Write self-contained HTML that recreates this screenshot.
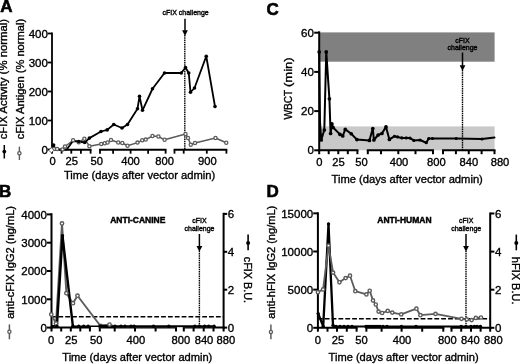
<!DOCTYPE html>
<html><head><meta charset="utf-8"><title>Figure</title>
<style>
html,body{margin:0;padding:0;background:#fff;}
body{width:520px;height:364px;overflow:hidden;}
svg{display:block;will-change:transform;font-family:"Liberation Sans",sans-serif;}
text{fill:#000;}
</style></head><body>
<svg width="520" height="364" viewBox="0 0 520 364">
<text x="0.2" y="12" font-size="17" text-anchor="start" font-weight="bold" stroke="#000" stroke-width="0.6" >A</text>
<line x1="52" y1="32.6" x2="52" y2="150.65" stroke="#000" stroke-width="1.8" />
<line x1="47.6" y1="149.5" x2="52" y2="149.5" stroke="#000" stroke-width="1.8" />
<text x="47.9" y="153.8" font-size="11.5" text-anchor="end" font-weight="normal" stroke="#000" stroke-width="0.35" >0</text>
<line x1="47.6" y1="120.5" x2="52" y2="120.5" stroke="#000" stroke-width="1.8" />
<text x="47.9" y="124.8" font-size="11.5" text-anchor="end" font-weight="normal" stroke="#000" stroke-width="0.35" >100</text>
<line x1="47.6" y1="91.5" x2="52" y2="91.5" stroke="#000" stroke-width="1.8" />
<text x="47.9" y="95.8" font-size="11.5" text-anchor="end" font-weight="normal" stroke="#000" stroke-width="0.35" >200</text>
<line x1="47.6" y1="62.5" x2="52" y2="62.5" stroke="#000" stroke-width="1.8" />
<text x="47.9" y="66.8" font-size="11.5" text-anchor="end" font-weight="normal" stroke="#000" stroke-width="0.35" >300</text>
<line x1="47.6" y1="33.5" x2="52" y2="33.5" stroke="#000" stroke-width="1.8" />
<text x="47.9" y="37.8" font-size="11.5" text-anchor="end" font-weight="normal" stroke="#000" stroke-width="0.35" >400</text>
<line x1="51.1" y1="149.75" x2="91.5" y2="149.75" stroke="#000" stroke-width="1.8" />
<line x1="52" y1="149.75" x2="52" y2="153.65" stroke="#000" stroke-width="1.8" />
<line x1="61.6" y1="149.75" x2="61.6" y2="153.65" stroke="#000" stroke-width="1.8" />
<line x1="71.3" y1="149.75" x2="71.3" y2="153.65" stroke="#000" stroke-width="1.8" />
<line x1="80.9" y1="149.75" x2="80.9" y2="153.65" stroke="#000" stroke-width="1.8" />
<line x1="90.6" y1="149.75" x2="90.6" y2="153.65" stroke="#000" stroke-width="1.8" />
<line x1="99.1" y1="149.75" x2="166.5" y2="149.75" stroke="#000" stroke-width="1.8" />
<line x1="100" y1="149.75" x2="100" y2="153.65" stroke="#000" stroke-width="1.8" />
<line x1="113.1" y1="149.75" x2="113.1" y2="153.65" stroke="#000" stroke-width="1.8" />
<line x1="130.6" y1="149.75" x2="130.6" y2="153.65" stroke="#000" stroke-width="1.8" />
<line x1="148.1" y1="149.75" x2="148.1" y2="153.65" stroke="#000" stroke-width="1.8" />
<line x1="165.6" y1="149.75" x2="165.6" y2="153.65" stroke="#000" stroke-width="1.8" />
<line x1="173.6" y1="149.75" x2="227.3" y2="149.75" stroke="#000" stroke-width="1.8" />
<line x1="174.5" y1="149.75" x2="174.5" y2="153.65" stroke="#000" stroke-width="1.8" />
<line x1="183.7" y1="149.75" x2="183.7" y2="153.65" stroke="#000" stroke-width="1.8" />
<line x1="206.8" y1="149.75" x2="206.8" y2="153.65" stroke="#000" stroke-width="1.8" />
<line x1="226.4" y1="149.75" x2="226.4" y2="153.65" stroke="#000" stroke-width="1.8" />
<text x="52.5" y="164.6" font-size="11.2" text-anchor="middle" font-weight="normal" stroke="#000" stroke-width="0.35" >0</text>
<text x="71.7" y="164.6" font-size="11.2" text-anchor="middle" font-weight="normal" stroke="#000" stroke-width="0.35" >25</text>
<text x="96.7" y="164.6" font-size="11.2" text-anchor="middle" font-weight="normal" stroke="#000" stroke-width="0.35" >50</text>
<text x="130.5" y="164.6" font-size="11.2" text-anchor="middle" font-weight="normal" stroke="#000" stroke-width="0.35" >400</text>
<text x="164.6" y="164.6" font-size="11.2" text-anchor="middle" font-weight="normal" stroke="#000" stroke-width="0.35" >800</text>
<text x="207.4" y="164.6" font-size="11.2" text-anchor="middle" font-weight="normal" stroke="#000" stroke-width="0.35" >900</text>
<text x="139.6" y="179.2" font-size="11.2" text-anchor="middle" font-weight="normal" stroke="#000" stroke-width="0.35" >Time (days after vector admin)</text>
<text x="7.4" y="139.3" font-size="11.35" text-anchor="start" font-weight="normal" stroke="#000" stroke-width="0.35" transform="rotate(-90 7.4 139.3)" >cFIX Activity (% normal)</text>
<text x="23.6" y="139.3" font-size="11.12" text-anchor="start" font-weight="normal" stroke="#000" stroke-width="0.35" transform="rotate(-90 23.6 139.3)" >cFIX Antigen (% normal)</text>
<line x1="4.3" y1="145" x2="4.3" y2="158.5" stroke="#000" stroke-width="1.5" />
<circle cx="4.3" cy="151.6" r="1.9" fill="#000"/>
<line x1="19.4" y1="146.6" x2="19.4" y2="160" stroke="#5c5c5c" stroke-width="1.4" />
<circle cx="19.4" cy="153.2" r="1.65" fill="#fff" stroke="#5c5c5c" stroke-width="1.3"/>
<text x="185.6" y="15.2" font-size="7" text-anchor="middle" font-weight="normal" stroke="#000" stroke-width="0.38" >cFIX challenge</text>
<line x1="185" y1="18.8" x2="185" y2="30.799999999999997" stroke="#000" stroke-width="1.5" />
<polygon points="182.1,30.299999999999997 187.9,30.299999999999997 185,35.9" fill="#000"/>
<line x1="184.8" y1="35" x2="184.8" y2="149.75" stroke="#000" stroke-width="1.4" stroke-dasharray="1.45 0.8"/>
<polyline points="51.3,149.7 54,149 57.1,149 62.5,149.4 65,146.5 73.1,140.3 78.75,142.3 84.4,138.7 89.4,146.2 101.25,144 104.75,143.3 107.6,142.5 111,140 118.25,142.5 122.3,143 127.5,145.75 137.5,142.6 142.2,140.3 145.7,139.6 152.5,136 158.4,136.5 164.6,139.8 185.5,134 188,138 190.75,144.75 195,143 215.5,138 226.25,142.75" fill="none" stroke="#5c5c5c" stroke-width="1.5" stroke-linejoin="round" stroke-linecap="round"/>
<polyline points="52,149.5 53.6,145 55.5,149.5 66.5,149.7 73,141 78.75,141.5 84.75,142.5 89.4,138.1 101,131.5 107.2,129.9 113.75,124.5 122,128 127.5,124.5 137.5,108.7 139.5,96.3 142.5,110.3 152.5,88.75 164.5,73 181.25,73 185.5,67.5 188.75,73 190.5,92.25 194.5,88 206.25,56.25 215,106.5" fill="none" stroke="#000" stroke-width="1.8" stroke-linejoin="round" stroke-linecap="round"/>
<circle cx="54" cy="149" r="1.6" fill="#fff" stroke="#5c5c5c" stroke-width="1.3"/>
<circle cx="57.1" cy="149" r="1.6" fill="#fff" stroke="#5c5c5c" stroke-width="1.3"/>
<circle cx="62.5" cy="149.4" r="1.6" fill="#fff" stroke="#5c5c5c" stroke-width="1.3"/>
<circle cx="65" cy="146.5" r="1.6" fill="#fff" stroke="#5c5c5c" stroke-width="1.3"/>
<circle cx="73.1" cy="140.3" r="1.6" fill="#fff" stroke="#5c5c5c" stroke-width="1.3"/>
<circle cx="78.75" cy="142.3" r="1.6" fill="#fff" stroke="#5c5c5c" stroke-width="1.3"/>
<circle cx="84.4" cy="138.7" r="1.6" fill="#fff" stroke="#5c5c5c" stroke-width="1.3"/>
<circle cx="89.4" cy="146.2" r="1.6" fill="#fff" stroke="#5c5c5c" stroke-width="1.3"/>
<circle cx="101.25" cy="144" r="1.6" fill="#fff" stroke="#5c5c5c" stroke-width="1.3"/>
<circle cx="104.75" cy="143.3" r="1.6" fill="#fff" stroke="#5c5c5c" stroke-width="1.3"/>
<circle cx="107.6" cy="142.5" r="1.6" fill="#fff" stroke="#5c5c5c" stroke-width="1.3"/>
<circle cx="111" cy="140" r="1.6" fill="#fff" stroke="#5c5c5c" stroke-width="1.3"/>
<circle cx="118.25" cy="142.5" r="1.6" fill="#fff" stroke="#5c5c5c" stroke-width="1.3"/>
<circle cx="122.3" cy="143" r="1.6" fill="#fff" stroke="#5c5c5c" stroke-width="1.3"/>
<circle cx="127.5" cy="145.75" r="1.6" fill="#fff" stroke="#5c5c5c" stroke-width="1.3"/>
<circle cx="137.5" cy="142.6" r="1.6" fill="#fff" stroke="#5c5c5c" stroke-width="1.3"/>
<circle cx="142.2" cy="140.3" r="1.6" fill="#fff" stroke="#5c5c5c" stroke-width="1.3"/>
<circle cx="145.7" cy="139.6" r="1.6" fill="#fff" stroke="#5c5c5c" stroke-width="1.3"/>
<circle cx="152.5" cy="136" r="1.6" fill="#fff" stroke="#5c5c5c" stroke-width="1.3"/>
<circle cx="158.4" cy="136.5" r="1.6" fill="#fff" stroke="#5c5c5c" stroke-width="1.3"/>
<circle cx="164.6" cy="139.8" r="1.6" fill="#fff" stroke="#5c5c5c" stroke-width="1.3"/>
<circle cx="185.5" cy="134" r="1.6" fill="#fff" stroke="#5c5c5c" stroke-width="1.3"/>
<circle cx="188" cy="138" r="1.6" fill="#fff" stroke="#5c5c5c" stroke-width="1.3"/>
<circle cx="190.75" cy="144.75" r="1.6" fill="#fff" stroke="#5c5c5c" stroke-width="1.3"/>
<circle cx="195" cy="143" r="1.6" fill="#fff" stroke="#5c5c5c" stroke-width="1.3"/>
<circle cx="215.5" cy="138" r="1.6" fill="#fff" stroke="#5c5c5c" stroke-width="1.3"/>
<circle cx="226.25" cy="142.75" r="1.6" fill="#fff" stroke="#5c5c5c" stroke-width="1.3"/>
<polygon points="48.7,150.2 51.3,147.6 53.9,150.2 51.3,152.8" fill="#fff" stroke="#5c5c5c" stroke-width="1.0"/>
<circle cx="53.6" cy="145" r="1.8" fill="#000"/>
<circle cx="78.75" cy="141.5" r="1.8" fill="#000"/>
<circle cx="84.75" cy="142.5" r="1.8" fill="#000"/>
<circle cx="89.4" cy="138.1" r="1.8" fill="#000"/>
<circle cx="101" cy="131.5" r="1.8" fill="#000"/>
<circle cx="107.2" cy="129.9" r="1.8" fill="#000"/>
<circle cx="113.75" cy="124.5" r="1.8" fill="#000"/>
<circle cx="122" cy="128" r="1.8" fill="#000"/>
<circle cx="127.5" cy="124.5" r="1.8" fill="#000"/>
<circle cx="137.5" cy="108.7" r="1.8" fill="#000"/>
<circle cx="139.5" cy="96.3" r="1.8" fill="#000"/>
<circle cx="142.5" cy="110.3" r="1.8" fill="#000"/>
<circle cx="152.5" cy="88.75" r="1.8" fill="#000"/>
<circle cx="164.5" cy="73" r="1.8" fill="#000"/>
<circle cx="181.25" cy="73" r="1.8" fill="#000"/>
<circle cx="185.5" cy="67.5" r="1.8" fill="#000"/>
<circle cx="188.75" cy="73" r="1.8" fill="#000"/>
<circle cx="190.5" cy="92.25" r="1.8" fill="#000"/>
<circle cx="194.5" cy="88" r="1.8" fill="#000"/>
<circle cx="206.25" cy="56.25" r="1.8" fill="#000"/>
<circle cx="215" cy="106.5" r="1.8" fill="#000"/>
<text x="266.4" y="14.5" font-size="17" text-anchor="start" font-weight="bold" stroke="#000" stroke-width="0.6" >C</text>
<rect x="319.2" y="32.4" width="175.40000000000003" height="29.300000000000004" fill="#808080"/>
<rect x="319.2" y="126.4" width="175.40000000000003" height="23.900000000000006" fill="#c9c9c9"/>
<line x1="319.2" y1="31.299999999999997" x2="319.2" y2="151.3" stroke="#000" stroke-width="2.0" />
<line x1="314.2" y1="150.3" x2="319.2" y2="150.3" stroke="#000" stroke-width="2.0" />
<text x="313.8" y="154.4" font-size="11.5" text-anchor="end" font-weight="normal" stroke="#000" stroke-width="0.35" >0</text>
<line x1="314.2" y1="111.10000000000001" x2="319.2" y2="111.10000000000001" stroke="#000" stroke-width="2.0" />
<text x="313.8" y="115.2" font-size="11.5" text-anchor="end" font-weight="normal" stroke="#000" stroke-width="0.35" >20</text>
<line x1="314.2" y1="71.9" x2="319.2" y2="71.9" stroke="#000" stroke-width="2.0" />
<text x="313.8" y="76.0" font-size="11.5" text-anchor="end" font-weight="normal" stroke="#000" stroke-width="0.35" >40</text>
<line x1="314.2" y1="32.7" x2="319.2" y2="32.7" stroke="#000" stroke-width="2.0" />
<text x="313.8" y="36.800000000000004" font-size="11.5" text-anchor="end" font-weight="normal" stroke="#000" stroke-width="0.35" >60</text>
<line x1="318.2" y1="150.3" x2="358.4" y2="150.3" stroke="#000" stroke-width="2.0" />
<line x1="319.2" y1="150.3" x2="319.2" y2="154.20000000000002" stroke="#000" stroke-width="2.0" />
<line x1="328.7" y1="150.3" x2="328.7" y2="154.20000000000002" stroke="#000" stroke-width="2.0" />
<line x1="338.3" y1="150.3" x2="338.3" y2="154.20000000000002" stroke="#000" stroke-width="2.0" />
<line x1="347.8" y1="150.3" x2="347.8" y2="154.20000000000002" stroke="#000" stroke-width="2.0" />
<line x1="357.4" y1="150.3" x2="357.4" y2="154.20000000000002" stroke="#000" stroke-width="2.0" />
<line x1="366.8" y1="150.3" x2="434.0" y2="150.3" stroke="#000" stroke-width="2.0" />
<line x1="367.8" y1="150.3" x2="367.8" y2="154.20000000000002" stroke="#000" stroke-width="2.0" />
<line x1="381" y1="150.3" x2="381" y2="154.20000000000002" stroke="#000" stroke-width="2.0" />
<line x1="398.3" y1="150.3" x2="398.3" y2="154.20000000000002" stroke="#000" stroke-width="2.0" />
<line x1="415.5" y1="150.3" x2="415.5" y2="154.20000000000002" stroke="#000" stroke-width="2.0" />
<line x1="433" y1="150.3" x2="433" y2="154.20000000000002" stroke="#000" stroke-width="2.0" />
<line x1="442.0" y1="150.3" x2="495.5" y2="150.3" stroke="#000" stroke-width="2.0" />
<line x1="443" y1="150.3" x2="443" y2="154.20000000000002" stroke="#000" stroke-width="2.0" />
<line x1="455.9" y1="150.3" x2="455.9" y2="154.20000000000002" stroke="#000" stroke-width="2.0" />
<line x1="468.75" y1="150.3" x2="468.75" y2="154.20000000000002" stroke="#000" stroke-width="2.0" />
<line x1="481.6" y1="150.3" x2="481.6" y2="154.20000000000002" stroke="#000" stroke-width="2.0" />
<line x1="494.5" y1="150.3" x2="494.5" y2="154.20000000000002" stroke="#000" stroke-width="2.0" />
<text x="319.3" y="165.6" font-size="11.2" text-anchor="middle" font-weight="normal" stroke="#000" stroke-width="0.35" >0</text>
<text x="338.4" y="165.6" font-size="11.2" text-anchor="middle" font-weight="normal" stroke="#000" stroke-width="0.35" >25</text>
<text x="361.4" y="165.6" font-size="11.2" text-anchor="middle" font-weight="normal" stroke="#000" stroke-width="0.35" >50</text>
<text x="399" y="165.6" font-size="11.2" text-anchor="middle" font-weight="normal" stroke="#000" stroke-width="0.35" >400</text>
<text x="436.4" y="165.6" font-size="11.2" text-anchor="middle" font-weight="normal" stroke="#000" stroke-width="0.35" >800</text>
<text x="468.9" y="165.6" font-size="11.2" text-anchor="middle" font-weight="normal" stroke="#000" stroke-width="0.35" >840</text>
<text x="500" y="165.6" font-size="11.2" text-anchor="middle" font-weight="normal" stroke="#000" stroke-width="0.35" >880</text>
<text x="407.2" y="182.9" font-size="11.2" text-anchor="middle" font-weight="normal" stroke="#000" stroke-width="0.35" >Time (days after vector admin)</text>
<text x="292.3" y="119.5" font-size="11.2" text-anchor="start" font-weight="normal" stroke="#000" stroke-width="0.35" transform="rotate(-90 292.3 119.5)" textLength="29.8" lengthAdjust="spacingAndGlyphs">WBCT</text>
<text x="292.3" y="87.0" font-size="11.6" text-anchor="start" font-weight="normal" stroke="#000" stroke-width="0.35" transform="rotate(-90 292.3 87.0)" textLength="29.6" lengthAdjust="spacingAndGlyphs">(min)</text>
<text x="462.5" y="42.5" font-size="7" text-anchor="middle" font-weight="normal" stroke="#000" stroke-width="0.38" >cFIX</text>
<text x="462.5" y="50" font-size="7" text-anchor="middle" font-weight="normal" stroke="#000" stroke-width="0.38" >challenge</text>
<line x1="462.5" y1="52.5" x2="462.5" y2="65.80000000000001" stroke="#000" stroke-width="1.5" />
<polygon points="459.6,65.30000000000001 465.4,65.30000000000001 462.5,70.9" fill="#000"/>
<line x1="462.5" y1="70" x2="462.5" y2="150.3" stroke="#000" stroke-width="1.4" stroke-dasharray="1.45 0.8"/>
<polyline points="319.2,51.9 320.0,122 321.25,140 324.3,130 326.25,51.9 329.4,98.75 330.6,133.5 331.9,123.75 333.1,127.5 340,134.4 342.75,136 345.25,129.4 351.25,133.75 356.9,139.6 369.4,140.4 372.8,128.5 373.9,140 378.1,135 381.9,133.5 386,126.9 389.4,139.4 394.4,136.3 397.5,136.9 401.9,137.9 406.25,137.9 410,138.1 413.75,140.4 420,140 426.25,142.75 428.75,138.5 432.5,138.5 456.25,138.5 482,139 494.5,137.5" fill="none" stroke="#000" stroke-width="2.0" stroke-linejoin="round" stroke-linecap="round"/>
<circle cx="319.2" cy="51.9" r="1.85" fill="#000"/>
<circle cx="321.25" cy="140" r="1.85" fill="#000"/>
<circle cx="324.3" cy="130" r="1.85" fill="#000"/>
<circle cx="326.25" cy="51.9" r="1.85" fill="#000"/>
<circle cx="329.4" cy="98.75" r="1.85" fill="#000"/>
<circle cx="330.6" cy="133.5" r="1.85" fill="#000"/>
<circle cx="331.9" cy="123.75" r="1.85" fill="#000"/>
<circle cx="333.1" cy="127.5" r="1.85" fill="#000"/>
<circle cx="340" cy="134.4" r="1.85" fill="#000"/>
<circle cx="342.75" cy="136" r="1.85" fill="#000"/>
<circle cx="345.25" cy="129.4" r="1.85" fill="#000"/>
<circle cx="351.25" cy="133.75" r="1.85" fill="#000"/>
<circle cx="356.9" cy="139.6" r="1.85" fill="#000"/>
<circle cx="369.4" cy="140.4" r="1.85" fill="#000"/>
<circle cx="372.8" cy="128.5" r="1.85" fill="#000"/>
<circle cx="373.9" cy="140" r="1.85" fill="#000"/>
<circle cx="378.1" cy="135" r="1.85" fill="#000"/>
<circle cx="381.9" cy="133.5" r="1.85" fill="#000"/>
<circle cx="386" cy="126.9" r="1.85" fill="#000"/>
<circle cx="389.4" cy="139.4" r="1.85" fill="#000"/>
<circle cx="394.4" cy="136.3" r="1.55" fill="#000"/>
<circle cx="397.5" cy="136.9" r="1.55" fill="#000"/>
<circle cx="401.9" cy="137.9" r="1.55" fill="#000"/>
<circle cx="406.25" cy="137.9" r="1.55" fill="#000"/>
<circle cx="410" cy="138.1" r="1.55" fill="#000"/>
<circle cx="413.75" cy="140.4" r="1.55" fill="#000"/>
<circle cx="420" cy="140" r="1.55" fill="#000"/>
<circle cx="426.25" cy="142.75" r="1.55" fill="#000"/>
<circle cx="428.75" cy="138.5" r="1.55" fill="#000"/>
<circle cx="432.5" cy="138.5" r="1.55" fill="#000"/>
<circle cx="456.25" cy="138.5" r="1.55" fill="#000"/>
<circle cx="482" cy="139" r="1.55" fill="#000"/>
<text x="-1.0" y="196.9" font-size="17" text-anchor="start" font-weight="bold" stroke="#000" stroke-width="0.6" >B</text>
<line x1="51.5" y1="213.2" x2="51.5" y2="328.6" stroke="#000" stroke-width="2.0" />
<line x1="46.8" y1="327.6" x2="51.5" y2="327.6" stroke="#000" stroke-width="2.0" />
<text x="46.9" y="331.8" font-size="11.5" text-anchor="end" font-weight="normal" stroke="#000" stroke-width="0.35" >0</text>
<line x1="46.8" y1="299.3" x2="51.5" y2="299.3" stroke="#000" stroke-width="2.0" />
<text x="46.9" y="303.5" font-size="11.5" text-anchor="end" font-weight="normal" stroke="#000" stroke-width="0.35" >1000</text>
<line x1="46.8" y1="271.0" x2="51.5" y2="271.0" stroke="#000" stroke-width="2.0" />
<text x="46.9" y="275.2" font-size="11.5" text-anchor="end" font-weight="normal" stroke="#000" stroke-width="0.35" >2000</text>
<line x1="46.8" y1="242.70000000000002" x2="51.5" y2="242.70000000000002" stroke="#000" stroke-width="2.0" />
<text x="46.9" y="246.9" font-size="11.5" text-anchor="end" font-weight="normal" stroke="#000" stroke-width="0.35" >3000</text>
<line x1="46.8" y1="214.40000000000003" x2="51.5" y2="214.40000000000003" stroke="#000" stroke-width="2.0" />
<text x="46.9" y="218.60000000000002" font-size="11.5" text-anchor="end" font-weight="normal" stroke="#000" stroke-width="0.35" >4000</text>
<line x1="50.5" y1="327.6" x2="90.9" y2="327.6" stroke="#000" stroke-width="2.0" />
<line x1="51.5" y1="327.6" x2="51.5" y2="331.5" stroke="#000" stroke-width="2.0" />
<line x1="61.2" y1="327.6" x2="61.2" y2="331.5" stroke="#000" stroke-width="2.0" />
<line x1="70.8" y1="327.6" x2="70.8" y2="331.5" stroke="#000" stroke-width="2.0" />
<line x1="80.3" y1="327.6" x2="80.3" y2="331.5" stroke="#000" stroke-width="2.0" />
<line x1="89.9" y1="327.6" x2="89.9" y2="331.5" stroke="#000" stroke-width="2.0" />
<line x1="98.8" y1="327.6" x2="177.0" y2="327.6" stroke="#000" stroke-width="2.0" />
<line x1="99.8" y1="327.6" x2="99.8" y2="331.5" stroke="#000" stroke-width="2.0" />
<line x1="114.7" y1="327.6" x2="114.7" y2="331.5" stroke="#000" stroke-width="2.0" />
<line x1="135" y1="327.6" x2="135" y2="331.5" stroke="#000" stroke-width="2.0" />
<line x1="155.6" y1="327.6" x2="155.6" y2="331.5" stroke="#000" stroke-width="2.0" />
<line x1="176" y1="327.6" x2="176" y2="331.5" stroke="#000" stroke-width="2.0" />
<line x1="182.8" y1="327.6" x2="224.6" y2="327.6" stroke="#000" stroke-width="2.0" />
<line x1="183.8" y1="327.6" x2="183.8" y2="331.5" stroke="#000" stroke-width="2.0" />
<line x1="193.6" y1="327.6" x2="193.6" y2="331.5" stroke="#000" stroke-width="2.0" />
<line x1="203.7" y1="327.6" x2="203.7" y2="331.5" stroke="#000" stroke-width="2.0" />
<line x1="213.5" y1="327.6" x2="213.5" y2="331.5" stroke="#000" stroke-width="2.0" />
<line x1="223.6" y1="327.6" x2="223.6" y2="331.5" stroke="#000" stroke-width="2.0" />
<text x="51.2" y="344.0" font-size="11.2" text-anchor="middle" font-weight="normal" stroke="#000" stroke-width="0.35" >0</text>
<text x="71.3" y="344.0" font-size="11.2" text-anchor="middle" font-weight="normal" stroke="#000" stroke-width="0.35" >25</text>
<text x="96.3" y="344.0" font-size="11.2" text-anchor="middle" font-weight="normal" stroke="#000" stroke-width="0.35" >50</text>
<text x="135.8" y="344.0" font-size="11.2" text-anchor="middle" font-weight="normal" stroke="#000" stroke-width="0.35" >400</text>
<text x="180.9" y="344.0" font-size="11.2" text-anchor="middle" font-weight="normal" stroke="#000" stroke-width="0.35" >800</text>
<text x="204" y="344.0" font-size="11.2" text-anchor="middle" font-weight="normal" stroke="#000" stroke-width="0.35" >840</text>
<text x="225.8" y="344.0" font-size="11.2" text-anchor="middle" font-weight="normal" stroke="#000" stroke-width="0.35" >880</text>
<text x="137.3" y="360.6" font-size="11.1" text-anchor="middle" font-weight="normal" stroke="#000" stroke-width="0.35" >Time (days after vector admin)</text>
<line x1="223.6" y1="212.8" x2="223.6" y2="328.6" stroke="#000" stroke-width="2.0" />
<line x1="223.6" y1="327.6" x2="227.2" y2="327.6" stroke="#000" stroke-width="2.0" />
<text x="227.8" y="331.70000000000005" font-size="11.5" text-anchor="start" font-weight="normal" stroke="#000" stroke-width="0.35" >0</text>
<line x1="223.6" y1="289.70000000000005" x2="227.2" y2="289.70000000000005" stroke="#000" stroke-width="2.0" />
<text x="227.8" y="293.80000000000007" font-size="11.5" text-anchor="start" font-weight="normal" stroke="#000" stroke-width="0.35" >2</text>
<line x1="223.6" y1="251.8" x2="227.2" y2="251.8" stroke="#000" stroke-width="2.0" />
<text x="227.8" y="255.9" font-size="11.5" text-anchor="start" font-weight="normal" stroke="#000" stroke-width="0.35" >4</text>
<line x1="223.6" y1="213.90000000000003" x2="227.2" y2="213.90000000000003" stroke="#000" stroke-width="2.0" />
<text x="227.8" y="218.00000000000003" font-size="11.5" text-anchor="start" font-weight="normal" stroke="#000" stroke-width="0.35" >6</text>
<text x="14.2" y="318.8" font-size="11.1" text-anchor="start" font-weight="normal" stroke="#000" stroke-width="0.35" transform="rotate(-90 14.2 318.8)" >anti-cFIX IgG2 (ng/mL)</text>
<line x1="9.4" y1="324.4" x2="9.4" y2="339.3" stroke="#5c5c5c" stroke-width="1.5" />
<circle cx="9.4" cy="331.8" r="1.6" fill="#fff" stroke="#5c5c5c" stroke-width="1.3"/>
<text x="244.2" y="256.8" font-size="10.8" text-anchor="start" font-weight="normal" stroke="#000" stroke-width="0.35" transform="rotate(90 244.2 256.8)" >cFIX B.U.</text>
<line x1="248.1" y1="234.6" x2="248.1" y2="250.3" stroke="#000" stroke-width="1.6" />
<circle cx="248.1" cy="243" r="2.0" fill="#000"/>
<text x="137.8" y="223" font-size="8.5" text-anchor="middle" font-weight="bold" stroke="#000" stroke-width="0.45" >ANTI-CANINE</text>
<text x="199.5" y="223.3" font-size="7" text-anchor="middle" font-weight="normal" stroke="#000" stroke-width="0.38" >cFIX</text>
<text x="199.5" y="230.8" font-size="7" text-anchor="middle" font-weight="normal" stroke="#000" stroke-width="0.38" >challenge</text>
<line x1="199.4" y1="234" x2="199.4" y2="246.60000000000002" stroke="#000" stroke-width="1.5" />
<polygon points="196.5,246.10000000000002 202.3,246.10000000000002 199.4,251.70000000000002" fill="#000"/>
<line x1="199.4" y1="250.8" x2="199.4" y2="327.6" stroke="#000" stroke-width="1.4" stroke-dasharray="1.45 0.8"/>
<line x1="51.5" y1="316.8" x2="223.6" y2="316.8" stroke="#000" stroke-width="1.55" stroke-dasharray="4.8 2.05"/>
<polyline points="51.3,314.4 56,323.5 62,223.4 66.4,293.2 73,303.2 77.5,295.7 100.5,326 109.5,324.6 115,326.3 135,326.3 168.8,326.3 199.3,326.3 214,326.3" fill="none" stroke="#5c5c5c" stroke-width="1.9" stroke-linejoin="round" stroke-linecap="round"/>
<polyline points="52,326.3 56.9,326.3 62.5,235.8 72.9,326.3" fill="none" stroke="#000" stroke-width="2.4" stroke-linejoin="round" stroke-linecap="round"/>
<polyline points="72.9,326.3 78.75,326.3 83.75,326.3 88.1,326.3 100,326.3 102,326.3 104,326.3 106,326.3 115,326.3 121,326.3 125,326.3 131,326.3 134,326.3 153.5,326.3 168.8,326.3 194.9,326.3 199.3,326.3 204.7,326.3 208.7,326.3 214.1,326.3" fill="none" stroke="#000" stroke-width="1.5" stroke-linejoin="round" stroke-linecap="round"/>
<circle cx="51.3" cy="314.4" r="1.7" fill="#fff" stroke="#5c5c5c" stroke-width="1.4"/>
<circle cx="56" cy="323.5" r="1.7" fill="#fff" stroke="#5c5c5c" stroke-width="1.4"/>
<circle cx="62" cy="223.4" r="1.7" fill="#fff" stroke="#5c5c5c" stroke-width="1.4"/>
<circle cx="66.4" cy="293.2" r="1.7" fill="#fff" stroke="#5c5c5c" stroke-width="1.4"/>
<circle cx="73" cy="303.2" r="1.7" fill="#fff" stroke="#5c5c5c" stroke-width="1.4"/>
<circle cx="77.5" cy="295.7" r="1.7" fill="#fff" stroke="#5c5c5c" stroke-width="1.4"/>
<circle cx="100.5" cy="326" r="1.7" fill="#fff" stroke="#5c5c5c" stroke-width="1.4"/>
<circle cx="109.5" cy="324.6" r="1.7" fill="#fff" stroke="#5c5c5c" stroke-width="1.4"/>
<circle cx="56.9" cy="326.3" r="1.7" fill="#000"/>
<circle cx="62.5" cy="235.8" r="1.7" fill="#000"/>
<circle cx="72.9" cy="326.3" r="1.7" fill="#000"/>
<circle cx="78.75" cy="326.3" r="1.7" fill="#000"/>
<circle cx="83.75" cy="326.3" r="1.7" fill="#000"/>
<circle cx="88.1" cy="326.3" r="1.7" fill="#000"/>
<circle cx="100" cy="326.3" r="1.7" fill="#000"/>
<circle cx="102" cy="326.3" r="1.7" fill="#000"/>
<circle cx="104" cy="326.3" r="1.7" fill="#000"/>
<circle cx="106" cy="326.3" r="1.7" fill="#000"/>
<circle cx="115" cy="326.3" r="1.7" fill="#000"/>
<circle cx="121" cy="326.3" r="1.7" fill="#000"/>
<circle cx="125" cy="326.3" r="1.7" fill="#000"/>
<circle cx="131" cy="326.3" r="1.7" fill="#000"/>
<circle cx="134" cy="326.3" r="1.7" fill="#000"/>
<circle cx="153.5" cy="326.3" r="1.7" fill="#000"/>
<circle cx="168.8" cy="326.3" r="1.7" fill="#000"/>
<circle cx="194.9" cy="326.3" r="1.7" fill="#000"/>
<circle cx="199.3" cy="326.3" r="1.7" fill="#000"/>
<circle cx="204.7" cy="326.3" r="1.7" fill="#000"/>
<circle cx="208.7" cy="326.3" r="1.7" fill="#000"/>
<circle cx="214.1" cy="326.3" r="1.7" fill="#000"/>
<text x="266.4" y="197.2" font-size="17" text-anchor="start" font-weight="bold" stroke="#000" stroke-width="0.6" >D</text>
<line x1="317.9" y1="212.3" x2="317.9" y2="328.8" stroke="#000" stroke-width="2.0" />
<line x1="313.2" y1="327.8" x2="317.9" y2="327.8" stroke="#000" stroke-width="2.0" />
<text x="313.2" y="332.0" font-size="11.5" text-anchor="end" font-weight="normal" stroke="#000" stroke-width="0.35" >0</text>
<line x1="313.2" y1="289.65000000000003" x2="317.9" y2="289.65000000000003" stroke="#000" stroke-width="2.0" />
<text x="313.2" y="293.85" font-size="11.5" text-anchor="end" font-weight="normal" stroke="#000" stroke-width="0.35" >5000</text>
<line x1="313.2" y1="251.5" x2="317.9" y2="251.5" stroke="#000" stroke-width="2.0" />
<text x="313.2" y="255.7" font-size="11.5" text-anchor="end" font-weight="normal" stroke="#000" stroke-width="0.35" >10000</text>
<line x1="313.2" y1="213.35000000000002" x2="317.9" y2="213.35000000000002" stroke="#000" stroke-width="2.0" />
<text x="313.2" y="217.55" font-size="11.5" text-anchor="end" font-weight="normal" stroke="#000" stroke-width="0.35" >15000</text>
<line x1="316.9" y1="327.8" x2="357.6" y2="327.8" stroke="#000" stroke-width="2.0" />
<line x1="317.9" y1="327.8" x2="317.9" y2="331.7" stroke="#000" stroke-width="2.0" />
<line x1="327.5" y1="327.8" x2="327.5" y2="331.7" stroke="#000" stroke-width="2.0" />
<line x1="337" y1="327.8" x2="337" y2="331.7" stroke="#000" stroke-width="2.0" />
<line x1="346.8" y1="327.8" x2="346.8" y2="331.7" stroke="#000" stroke-width="2.0" />
<line x1="356.6" y1="327.8" x2="356.6" y2="331.7" stroke="#000" stroke-width="2.0" />
<line x1="365.4" y1="327.8" x2="444.3" y2="327.8" stroke="#000" stroke-width="2.0" />
<line x1="366.4" y1="327.8" x2="366.4" y2="331.7" stroke="#000" stroke-width="2.0" />
<line x1="381.6" y1="327.8" x2="381.6" y2="331.7" stroke="#000" stroke-width="2.0" />
<line x1="401.6" y1="327.8" x2="401.6" y2="331.7" stroke="#000" stroke-width="2.0" />
<line x1="422.2" y1="327.8" x2="422.2" y2="331.7" stroke="#000" stroke-width="2.0" />
<line x1="443.3" y1="327.8" x2="443.3" y2="331.7" stroke="#000" stroke-width="2.0" />
<line x1="450.5" y1="327.8" x2="491.2" y2="327.8" stroke="#000" stroke-width="2.0" />
<line x1="451.5" y1="327.8" x2="451.5" y2="331.7" stroke="#000" stroke-width="2.0" />
<line x1="461.2" y1="327.8" x2="461.2" y2="331.7" stroke="#000" stroke-width="2.0" />
<line x1="471" y1="327.8" x2="471" y2="331.7" stroke="#000" stroke-width="2.0" />
<line x1="480.6" y1="327.8" x2="480.6" y2="331.7" stroke="#000" stroke-width="2.0" />
<line x1="490.2" y1="327.8" x2="490.2" y2="331.7" stroke="#000" stroke-width="2.0" />
<text x="317.8" y="344.0" font-size="11.2" text-anchor="middle" font-weight="normal" stroke="#000" stroke-width="0.35" >0</text>
<text x="338" y="344.0" font-size="11.2" text-anchor="middle" font-weight="normal" stroke="#000" stroke-width="0.35" >25</text>
<text x="361.4" y="344.0" font-size="11.2" text-anchor="middle" font-weight="normal" stroke="#000" stroke-width="0.35" >50</text>
<text x="402" y="344.0" font-size="11.2" text-anchor="middle" font-weight="normal" stroke="#000" stroke-width="0.35" >400</text>
<text x="447.4" y="344.0" font-size="11.2" text-anchor="middle" font-weight="normal" stroke="#000" stroke-width="0.35" >800</text>
<text x="470.4" y="344.0" font-size="11.2" text-anchor="middle" font-weight="normal" stroke="#000" stroke-width="0.35" >840</text>
<text x="493.3" y="344.0" font-size="11.2" text-anchor="middle" font-weight="normal" stroke="#000" stroke-width="0.35" >880</text>
<text x="403.6" y="360.6" font-size="11.1" text-anchor="middle" font-weight="normal" stroke="#000" stroke-width="0.35" >Time (days after vector admin)</text>
<line x1="490.2" y1="212.5" x2="490.2" y2="328.8" stroke="#000" stroke-width="2.0" />
<line x1="490.2" y1="327.8" x2="494.4" y2="327.8" stroke="#000" stroke-width="2.0" />
<text x="494.9" y="331.90000000000003" font-size="11.5" text-anchor="start" font-weight="normal" stroke="#000" stroke-width="0.35" >0</text>
<line x1="490.2" y1="289.7" x2="494.4" y2="289.7" stroke="#000" stroke-width="2.0" />
<text x="494.9" y="293.8" font-size="11.5" text-anchor="start" font-weight="normal" stroke="#000" stroke-width="0.35" >2</text>
<line x1="490.2" y1="251.60000000000002" x2="494.4" y2="251.60000000000002" stroke="#000" stroke-width="2.0" />
<text x="494.9" y="255.70000000000002" font-size="11.5" text-anchor="start" font-weight="normal" stroke="#000" stroke-width="0.35" >4</text>
<line x1="490.2" y1="213.5" x2="494.4" y2="213.5" stroke="#000" stroke-width="2.0" />
<text x="494.9" y="217.6" font-size="11.5" text-anchor="start" font-weight="normal" stroke="#000" stroke-width="0.35" >6</text>
<text x="275.2" y="318.7" font-size="11.05" text-anchor="start" font-weight="normal" stroke="#000" stroke-width="0.35" transform="rotate(-90 275.2 318.7)" >anti-hFIX IgG2 (ng/mL)</text>
<line x1="270.9" y1="324.4" x2="270.9" y2="339.3" stroke="#5c5c5c" stroke-width="1.5" />
<circle cx="270.9" cy="331.9" r="1.6" fill="#fff" stroke="#5c5c5c" stroke-width="1.3"/>
<text x="512.3" y="256.8" font-size="11" text-anchor="start" font-weight="normal" stroke="#000" stroke-width="0.35" transform="rotate(90 512.3 256.8)" >hFIX B.U.</text>
<line x1="516.3" y1="234.6" x2="516.3" y2="250.3" stroke="#000" stroke-width="1.6" />
<circle cx="516.3" cy="243" r="2.0" fill="#000"/>
<text x="404.4" y="223" font-size="8.5" text-anchor="middle" font-weight="bold" stroke="#000" stroke-width="0.45" >ANTI-HUMAN</text>
<text x="466.2" y="223.3" font-size="7" text-anchor="middle" font-weight="normal" stroke="#000" stroke-width="0.38" >cFIX</text>
<text x="466.2" y="230.8" font-size="7" text-anchor="middle" font-weight="normal" stroke="#000" stroke-width="0.38" >challenge</text>
<line x1="466" y1="234" x2="466" y2="246.60000000000002" stroke="#000" stroke-width="1.5" />
<polygon points="463.1,246.10000000000002 468.9,246.10000000000002 466,251.70000000000002" fill="#000"/>
<line x1="466" y1="250.8" x2="466" y2="327.8" stroke="#000" stroke-width="1.4" stroke-dasharray="1.45 0.8"/>
<line x1="317.9" y1="318.7" x2="490.2" y2="318.7" stroke="#000" stroke-width="1.55" stroke-dasharray="4.8 2.05"/>
<polyline points="318.2,313.6 323.2,326.4 328.5,224 333,325.4" fill="none" stroke="#000" stroke-width="2.3" stroke-linejoin="round" stroke-linecap="round"/>
<polyline points="333,325.4 336,326.5 340,326.5 344,326.5 348,326.5 352,326.5 366,326.5 368,326.5 370,326.5 372,326.5 374,326.5 376,326.5 378,326.5 380,326.5 383,326.5 387,326.5 401.5,326.5 416,326.5 461.2,326.5 466,326.5 471,326.5 474.4,326.5 477,326.5 480.5,326.5" fill="none" stroke="#000" stroke-width="1.9" stroke-linejoin="round" stroke-linecap="round"/>
<circle cx="318.2" cy="313.6" r="1.7" fill="#000"/>
<circle cx="323.2" cy="326.4" r="1.7" fill="#000"/>
<circle cx="328.5" cy="224" r="1.7" fill="#000"/>
<circle cx="333" cy="325.4" r="1.7" fill="#000"/>
<circle cx="336" cy="326.5" r="1.7" fill="#000"/>
<circle cx="340" cy="326.5" r="1.7" fill="#000"/>
<circle cx="344" cy="326.5" r="1.7" fill="#000"/>
<circle cx="348" cy="326.5" r="1.7" fill="#000"/>
<circle cx="352" cy="326.5" r="1.7" fill="#000"/>
<circle cx="366" cy="326.5" r="1.7" fill="#000"/>
<circle cx="368" cy="326.5" r="1.7" fill="#000"/>
<circle cx="370" cy="326.5" r="1.7" fill="#000"/>
<circle cx="372" cy="326.5" r="1.7" fill="#000"/>
<circle cx="374" cy="326.5" r="1.7" fill="#000"/>
<circle cx="376" cy="326.5" r="1.7" fill="#000"/>
<circle cx="378" cy="326.5" r="1.7" fill="#000"/>
<circle cx="380" cy="326.5" r="1.7" fill="#000"/>
<circle cx="383" cy="326.5" r="1.7" fill="#000"/>
<circle cx="387" cy="326.5" r="1.7" fill="#000"/>
<circle cx="401.5" cy="326.5" r="1.7" fill="#000"/>
<circle cx="416" cy="326.5" r="1.7" fill="#000"/>
<circle cx="461.2" cy="326.5" r="1.7" fill="#000"/>
<circle cx="466" cy="326.5" r="1.7" fill="#000"/>
<circle cx="471" cy="326.5" r="1.7" fill="#000"/>
<circle cx="474.4" cy="326.5" r="1.7" fill="#000"/>
<circle cx="477" cy="326.5" r="1.7" fill="#000"/>
<circle cx="480.5" cy="326.5" r="1.7" fill="#000"/>
<polyline points="317.9,292.2 323.1,289.4 328.5,245.6 333.1,272.6 339.4,282.3 345.6,278.1 350,275.7 355.3,291.2 366.4,294.4 369.7,290.8 373,300.4 375.8,304.5 378.6,311.6 382.1,313 387.7,310.9 392.3,312.6 401.2,314.4 416.4,308.7 420.4,315.2 435.5,313.9 461.5,318.8 466.8,319.4 471.6,320.1 475.8,317.9 481,317.5" fill="none" stroke="#5c5c5c" stroke-width="1.8" stroke-linejoin="round" stroke-linecap="round"/>
<circle cx="317.9" cy="292.2" r="1.65" fill="#fff" stroke="#5c5c5c" stroke-width="1.4"/>
<circle cx="323.1" cy="289.4" r="1.65" fill="#fff" stroke="#5c5c5c" stroke-width="1.4"/>
<circle cx="328.5" cy="245.6" r="1.65" fill="#fff" stroke="#5c5c5c" stroke-width="1.4"/>
<circle cx="333.1" cy="272.6" r="1.65" fill="#fff" stroke="#5c5c5c" stroke-width="1.4"/>
<circle cx="339.4" cy="282.3" r="1.65" fill="#fff" stroke="#5c5c5c" stroke-width="1.4"/>
<circle cx="345.6" cy="278.1" r="1.65" fill="#fff" stroke="#5c5c5c" stroke-width="1.4"/>
<circle cx="350" cy="275.7" r="1.65" fill="#fff" stroke="#5c5c5c" stroke-width="1.4"/>
<circle cx="355.3" cy="291.2" r="1.65" fill="#fff" stroke="#5c5c5c" stroke-width="1.4"/>
<circle cx="366.4" cy="294.4" r="1.65" fill="#fff" stroke="#5c5c5c" stroke-width="1.4"/>
<circle cx="369.7" cy="290.8" r="1.65" fill="#fff" stroke="#5c5c5c" stroke-width="1.4"/>
<circle cx="373" cy="300.4" r="1.65" fill="#fff" stroke="#5c5c5c" stroke-width="1.4"/>
<circle cx="375.8" cy="304.5" r="1.65" fill="#fff" stroke="#5c5c5c" stroke-width="1.4"/>
<circle cx="378.6" cy="311.6" r="1.65" fill="#fff" stroke="#5c5c5c" stroke-width="1.4"/>
<circle cx="382.1" cy="313" r="1.65" fill="#fff" stroke="#5c5c5c" stroke-width="1.4"/>
<circle cx="387.7" cy="310.9" r="1.65" fill="#fff" stroke="#5c5c5c" stroke-width="1.4"/>
<circle cx="392.3" cy="312.6" r="1.65" fill="#fff" stroke="#5c5c5c" stroke-width="1.4"/>
<circle cx="401.2" cy="314.4" r="1.65" fill="#fff" stroke="#5c5c5c" stroke-width="1.4"/>
<circle cx="416.4" cy="308.7" r="1.65" fill="#fff" stroke="#5c5c5c" stroke-width="1.4"/>
<circle cx="420.4" cy="315.2" r="1.65" fill="#fff" stroke="#5c5c5c" stroke-width="1.4"/>
<circle cx="435.5" cy="313.9" r="1.65" fill="#fff" stroke="#5c5c5c" stroke-width="1.4"/>
<circle cx="461.5" cy="318.8" r="1.65" fill="#fff" stroke="#5c5c5c" stroke-width="1.4"/>
<circle cx="466.8" cy="319.4" r="1.65" fill="#fff" stroke="#5c5c5c" stroke-width="1.4"/>
<circle cx="471.6" cy="320.1" r="1.65" fill="#fff" stroke="#5c5c5c" stroke-width="1.4"/>
<circle cx="475.8" cy="317.9" r="1.65" fill="#fff" stroke="#5c5c5c" stroke-width="1.4"/>
<circle cx="481" cy="317.5" r="1.65" fill="#fff" stroke="#5c5c5c" stroke-width="1.4"/>
</svg>
</body></html>
